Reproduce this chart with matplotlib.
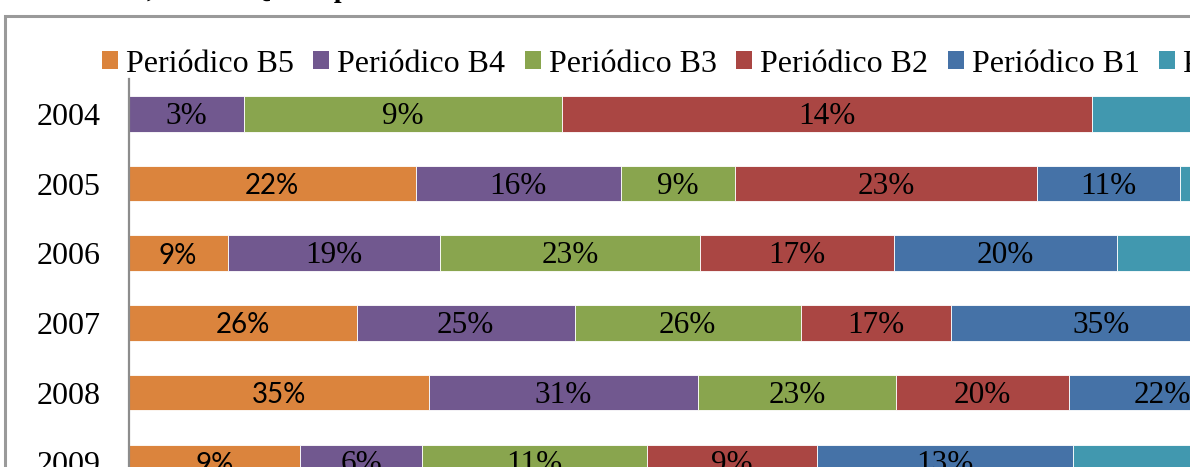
import matplotlib
matplotlib.use("Agg")
import matplotlib.pyplot as plt
from matplotlib.patches import Patch, Rectangle
import matplotlib.transforms as mtransforms
import numpy as np

# ---- data (share of each Qualis stratum's articles per year, %) ----
years = ["2004", "2005", "2006", "2007", "2008", "2009"]
series_names = ["Periódico B5", "Periódico B4", "Periódico B3",
                "Periódico B2", "Periódico B1", "Periódico A2"]
b5 = [0.0, 21.99, 8.80, 26.15, 34.76, 8.70]
b4 = [3.12, 15.71, 18.87, 25.03, 31.24, 6.21]
b3 = [8.59, 8.77, 23.13, 25.88, 22.95, 11.42]
b2 = [14.32, 23.12, 17.26, 17.21, 19.98, 8.59]
b1 = [0.0, 11.00, 19.80, 34.60, 21.80, 13.00]
a2 = [8.34, 16.86, 25.18, 16.97, 16.63, 16.63]
colors = ["#DB843D", "#71588F", "#89A54E", "#AA4643", "#4572A7", "#4198AF"]
title_text = "Resultado anual, estrato Qualis periódicos"

W, H = 1190, 467
fig = plt.figure(figsize=(W / 100, H / 100), dpi=100)
fig.patch.set_facecolor("white")

# plot area (extends beyond the visible crop, like the reference)
left_px, top_px = 128.6, 79.0
plot_w_px, band_px = 1271.7, 69.7
bottom_px = top_px + band_px * len(years)
ax = fig.add_axes([left_px / W, 1 - bottom_px / H,
                   plot_w_px / W, (bottom_px - top_px) / H])

data = np.array([b5, b4, b3, b2, b1, a2])
totals = data.sum(axis=0)
frac = data / totals
y = np.arange(len(years))
lefts = np.zeros(len(years))
serif = "Liberation Serif"
lbl_tr = ax.transData + mtransforms.ScaledTranslation(0, -2.5 / 100,
                                                      fig.dpi_scale_trans)
for i, (name, col) in enumerate(zip(series_names, colors)):
    vals = frac[i]
    ax.barh(y, vals, left=lefts, height=0.51, color=col,
            edgecolor="white", linewidth=0.6, label=name)
    for j in range(len(years)):
        if data[i, j] > 0:
            cx = lefts[j] + vals[j] / 2
            txt = f"{int(round(data[i, j]))}%"
            if i == 0:
                ax.text(cx, y[j], txt, ha="center", va="center",
                        fontsize=20, family="Lato", color="black",
                        transform=lbl_tr)
            else:
                ax.text(cx, y[j], txt, ha="center", va="center",
                        fontsize=22.5, family=serif, color="black",
                        transform=lbl_tr)
    lefts += vals

ax.set_xlim(0, 1)
ax.set_ylim(len(years) - 0.5, -0.5)
ax.set_yticks(y)
ax.set_yticklabels(years, family=serif, fontsize=23)
ax.tick_params(axis="y", length=0, pad=20)
ax.set_xticks([])
for s in ["top", "right", "bottom"]:
    ax.spines[s].set_visible(False)
ax.spines["left"].set_color("#8C8C8C")
ax.spines["left"].set_linewidth(1.6)
ax.set_facecolor("none")

# legend along the top
handles = [Patch(facecolor=c, edgecolor="none") for c in colors]
fig.legend(handles, series_names, loc="center left",
           bbox_to_anchor=(102 / W, 1 - 64 / H), ncol=6, frameon=False,
           prop={"family": serif, "size": 23}, handlelength=0.5,
           handleheight=0.5, handletextpad=0.25, columnspacing=0.61,
           borderpad=0, borderaxespad=0)

# chart border (cropped)
fig.add_artist(Rectangle((5 / W, -0.5), 2.0, (1 - 16 / H) + 0.5,
                         transform=fig.transFigure, fill=False,
                         edgecolor="#9A9A9A", linewidth=2.2))

# title (mostly cut off at the top)
fig.text(-45 / W, 1 + 3 / H, title_text, ha="left", va="baseline",
         fontsize=20, fontweight="bold", family=serif, color="black")

fig.savefig("out.png", dpi=100)
